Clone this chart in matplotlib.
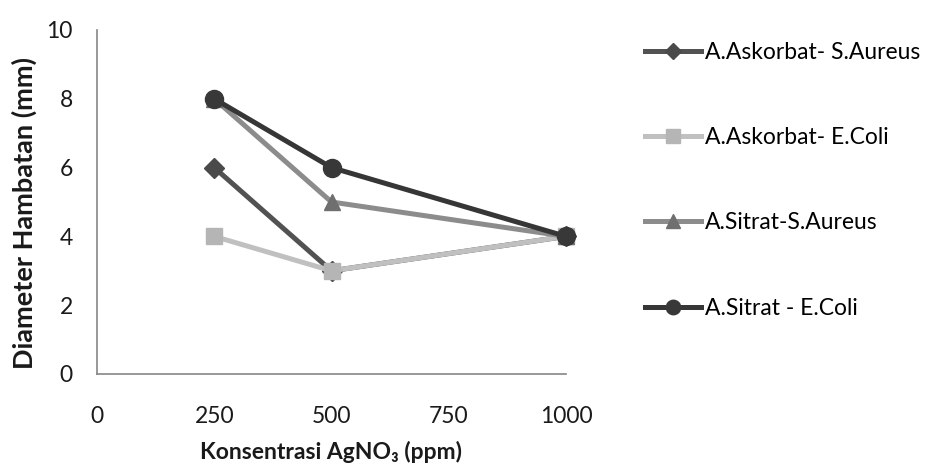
import matplotlib
matplotlib.use("Agg")
import matplotlib.pyplot as plt

plt.rcParams['font.family'] = ['Lato', 'DejaVu Sans']

x_values = [250, 500, 1000]
series_names = ["A.Askorbat- S.Aureus", "A.Askorbat- E.Coli", "A.Sitrat-S.Aureus", "A.Sitrat - E.Coli"]
askorbat_saureus = [6, 3, 4]
askorbat_ecoli = [4, 3, 4]
sitrat_saureus = [8, 5, 4]
sitrat_ecoli = [8, 6, 4]
x_ticks = [0, 250, 500, 750, 1000]
y_ticks = [0, 2, 4, 6, 8, 10]

W, H = 935, 466
fig = plt.figure(figsize=(W / 100, H / 100), dpi=100)
x0, x1, y0, y1 = 97, 566, 374, 30
ax = fig.add_axes([x0 / W, 1 - y0 / H, (x1 - x0) / W, (y0 - y1) / H])

styles = [
    dict(marker='D', color='#525252', mfc='#4a4a4a', mec='#4a4a4a', ms=10),
    dict(marker='s', color='#c0c0c0', mfc='#b5b5b5', mec='#b5b5b5', ms=12),
    dict(marker='^', color='#8c8c8c', mfc='#6f6f6f', mec='#6f6f6f', ms=12),
    dict(marker='o', color='#363636', mfc='#383838', mec='#383838', ms=13),
]
data = [askorbat_saureus, askorbat_ecoli, sitrat_saureus, sitrat_ecoli]
for name, vals, st in zip(series_names, data, styles):
    ax.plot(x_values, vals, lw=3.6, label=name, clip_on=False, **st)

FS = 16.5
ax.set_xlim(0, 1000)
ax.set_ylim(0, 10)
ax.set_xticks(x_ticks)
ax.set_yticks(y_ticks)
ax.tick_params(axis='both', length=0, labelsize=FS, colors='#1a1a1a')
ax.tick_params(axis='x', pad=23)
ax.tick_params(axis='y', pad=17.5)
for s in ['top', 'right']:
    ax.spines[s].set_visible(False)
for s in ['left', 'bottom']:
    ax.spines[s].set_color('#868686')
    ax.spines[s].set_linewidth(1.2)

ax.set_xlabel("Konsentrasi AgNO₃ (ppm)", fontsize=FS, fontweight='bold', color='#1a1a1a')
ax.xaxis.set_label_coords((331 - x0) / (x1 - x0), -(452 - y0) / (y0 - y1))
ax.xaxis.label.set_va('center')
ax.set_ylabel("Diameter Hambatan (mm)", fontsize=19.5, fontweight='bold', color='#1a1a1a')
ax.yaxis.set_label_coords(-(x0 - 24) / (x1 - x0), (y0 - 213) / (y0 - y1))
ax.yaxis.label.set_va('center')

fig.legend(loc='upper left', bbox_to_anchor=(624 / W, 1 - 21 / H), frameon=False,
           fontsize=FS, handlelength=2.45, handletextpad=0.17, labelspacing=2.81,
           markerscale=0.8)

fig.savefig("out.png", dpi=100, facecolor='white')
